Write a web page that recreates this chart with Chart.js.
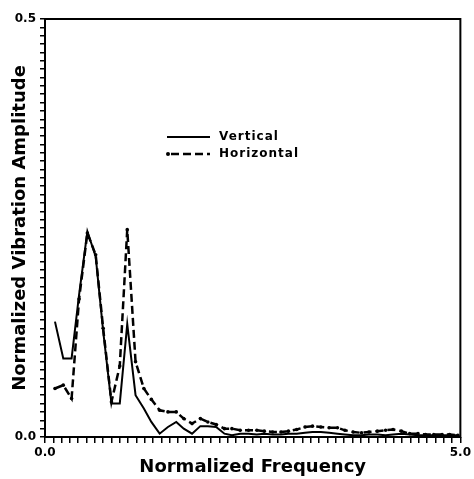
<!DOCTYPE html>
<html lang="en">
<head>
    <meta charset="UTF-8">
    <title>Normalized Vibration Amplitude</title>
    <script src="https://cdn.jsdelivr.net/npm/chart.js"></script>
    <style>
        body { margin: 0; background: #ffffff; }
    </style>
</head>
<body>
<canvas id="spectrum" width="474" height="479"></canvas>
<script>
// frequency bins (normalized)
const freq = [0.12, 0.22, 0.32, 0.41, 0.51, 0.61, 0.70, 0.80, 0.90, 0.99,
              1.09, 1.19, 1.28, 1.38, 1.48, 1.58, 1.67, 1.77, 1.87, 1.96,
              2.06, 2.16, 2.25, 2.35, 2.45, 2.55, 2.64, 2.74, 2.84, 2.93,
              3.03, 3.13, 3.22, 3.32, 3.42, 3.52, 3.61, 3.71, 3.81, 3.90,
              4.00, 4.10, 4.19, 4.29, 4.39, 4.49, 4.58, 4.68, 4.78, 4.87, 4.97];

const vertical = [0.138, 0.094, 0.094, 0.170, 0.246, 0.216, 0.127, 0.040, 0.040, 0.135,
                  0.050, 0.034, 0.018, 0.004, 0.012, 0.018, 0.010, 0.004, 0.013, 0.013,
                  0.012, 0.004, 0.002, 0.004, 0.004, 0.003, 0.004, 0.003, 0.003, 0.004,
                  0.004, 0.005, 0.006, 0.006, 0.005, 0.004, 0.003, 0.002, 0.002, 0.003,
                  0.003, 0.002, 0.003, 0.004, 0.003, 0.002, 0.002, 0.002, 0.002, 0.002, 0.002];

const horizontal = [0.058, 0.062, 0.046, 0.165, 0.244, 0.218, 0.130, 0.042, 0.085, 0.248,
                    0.090, 0.058, 0.045, 0.032, 0.030, 0.030, 0.022, 0.016, 0.022, 0.018,
                    0.015, 0.010, 0.010, 0.008, 0.008, 0.008, 0.007, 0.006, 0.006, 0.007,
                    0.009, 0.012, 0.013, 0.012, 0.011, 0.011, 0.008, 0.006, 0.005, 0.006,
                    0.007, 0.008, 0.009, 0.007, 0.004, 0.004, 0.003, 0.003, 0.003, 0.003, 0.002];

const seriesNames = ['Vertical', 'Horizontal'];
const xLabels = { 0: '0.0', 5: '5.0' };
const yLabels = { 0: '0.0', 0.5: '0.5' };

function pts(ys) {
    return freq.map((f, i) => ({ x: f, y: ys[i] }));
}

function pick(map, v) {
    for (const k in map) {
        if (Math.abs(v - Number(k)) < 1e-6) return map[k];
    }
    return '';
}

const FONT = 'DejaVu Sans';

// box around plot + legend inside the plot
const framePlugin = {
    id: 'frame',
    afterDatasetsDraw(chart) {
        const { ctx, chartArea: a } = chart;
        ctx.save();
        ctx.strokeStyle = '#000';
        ctx.fillStyle = '#000';
        ctx.lineWidth = 2;
        ctx.strokeRect(a.left, a.top, a.right - a.left, a.bottom - a.top);

        // legend
        const lx = 167, ly = 137;
        ctx.lineWidth = 2;
        ctx.beginPath();
        ctx.moveTo(lx, ly); ctx.lineTo(lx + 43, ly);
        ctx.stroke();
        ctx.setLineDash([8, 4]);
        ctx.lineWidth = 2.5;
        ctx.beginPath();
        ctx.moveTo(lx + 4, ly + 17); ctx.lineTo(lx + 43, ly + 17);
        ctx.stroke();
        ctx.setLineDash([]);
        ctx.beginPath();
        ctx.arc(lx + 1, ly + 17, 2, 0, Math.PI * 2);
        ctx.fill();
        ctx.font = 'bold 12px ' + FONT;
        ctx.letterSpacing = '1px';
        ctx.textBaseline = 'middle';
        ctx.fillText(seriesNames[0], lx + 52, ly);
        ctx.fillText(seriesNames[1], lx + 52, ly + 17);
        ctx.restore();
    }
};

const ctx = document.getElementById('spectrum').getContext('2d');
const chart = new Chart(ctx, {
    type: 'line',
    data: {
        datasets: [{
            label: seriesNames[0],
            data: pts(vertical),
            borderColor: '#000',
            borderWidth: 2,
            pointRadius: 0,
            tension: 0
        }, {
            label: seriesNames[1],
            data: pts(horizontal),
            borderColor: '#000',
            backgroundColor: '#000',
            borderWidth: 2.5,
            borderDash: [8, 4],
            pointRadius: 1.8,
            pointBorderWidth: 0,
            tension: 0
        }]
    },
    options: {
        responsive: false,
        animation: false,
        layout: { padding: { left: 8, right: 6, top: 19, bottom: 0 } },
        plugins: { legend: { display: false }, tooltip: { enabled: false } },
        scales: {
            x: {
                type: 'linear',
                min: 0, max: 5,
                afterFit: s => { s.height = 42; },
                grid: { drawOnChartArea: false, tickLength: 6, color: '#000', lineWidth: 1.5 },
                border: { display: false },
                ticks: {
                    stepSize: 0.1, maxTicksLimit: 100, autoSkip: false, maxRotation: 0,
                    color: '#000', padding: 3,
                    font: { family: FONT, size: 12, weight: 'bold' },
                    callback: v => pick(xLabels, v)
                },
                title: {
                    display: true, text: 'Normalized Frequency', color: '#000',
                    font: { family: FONT, size: 18, weight: 'bold', lineHeight: 1.1 },
                    padding: { top: 0, bottom: 2 }
                }
            },
            y: {
                min: 0, max: 0.5,
                afterFit: s => { s.width = 37; },
                grid: { drawOnChartArea: false, tickLength: 5, color: '#000', lineWidth: 1.5 },
                border: { display: false },
                ticks: {
                    stepSize: 0.01, maxTicksLimit: 100, autoSkip: false,
                    color: '#000', padding: 4,
                    font: { family: FONT, size: 12, weight: 'bold' },
                    callback: v => pick(yLabels, v)
                },
                title: {
                    display: true, text: 'Normalized Vibration Amplitude', color: '#000',
                    font: { family: FONT, size: 18, weight: 'bold', lineHeight: 1.1 },
                    padding: { top: 2, bottom: 0 }
                }
            }
        }
    },
    plugins: [framePlugin]
});
</script>
</body>
</html>
